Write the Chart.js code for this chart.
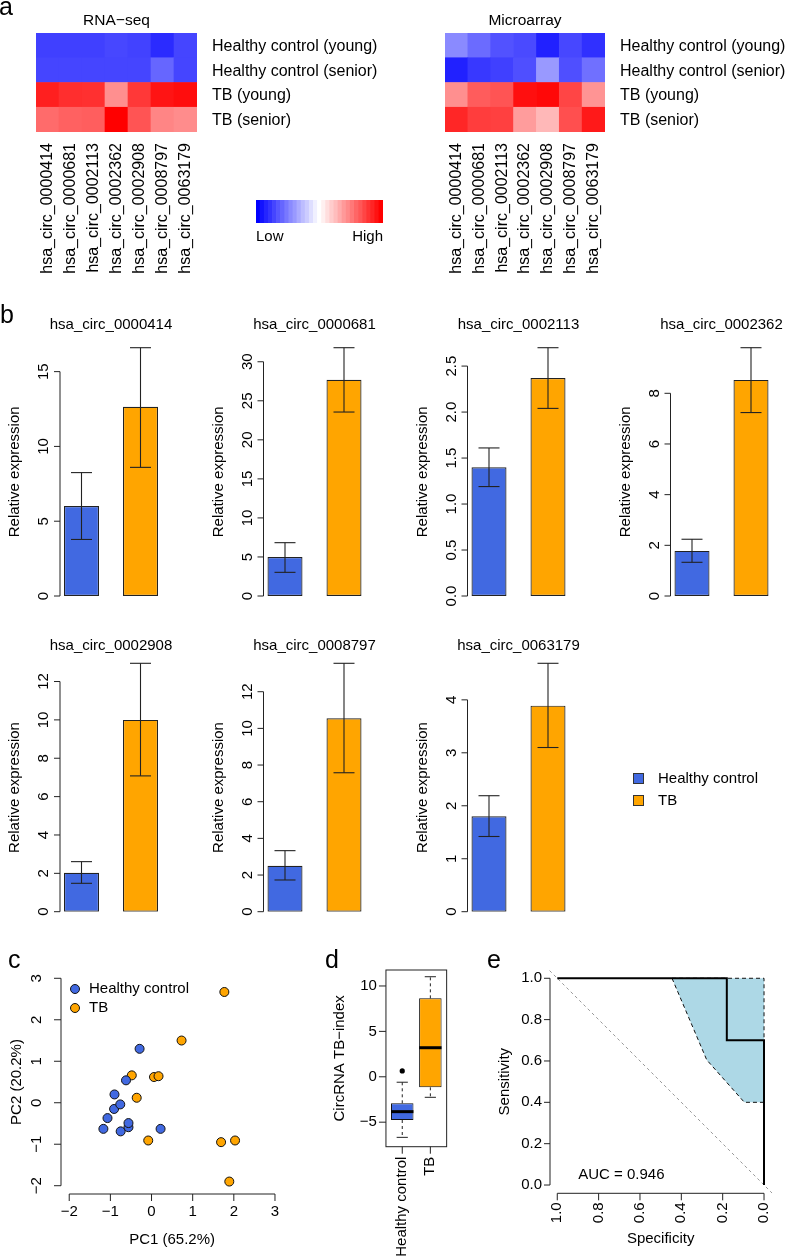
<!DOCTYPE html>
<html><head><meta charset="utf-8">
<script src="https://cdn.jsdelivr.net/npm/chart.js@4/dist/chart.umd.min.js"></script>
<style>
html,body{margin:0;padding:0;background:#fff;}
#wrap{position:relative;width:786px;height:1258px;overflow:hidden;background:#fff;}
canvas{position:absolute;left:0;top:0;}
</style></head><body><div id="wrap"></div>
<script>
// ================= DATA =================
const circIds = ['hsa_circ_0000414','hsa_circ_0000681','hsa_circ_0002113','hsa_circ_0002362','hsa_circ_0002908','hsa_circ_0008797','hsa_circ_0063179'];
const heatRowNames = ['Healthy control (young)','Healthy control (senior)','TB (young)','TB (senior)'];
// heatmap scaled expression (-1 = low/blue, 1 = high/red)
const rnaseqHCyoung  = [-0.75,-0.75,-0.75,-0.72,-0.74,-0.83,-0.73];
const rnaseqHCsenior = [-0.73,-0.73,-0.73,-0.73,-0.73,-0.60,-0.73];
const rnaseqTByoung  = [0.88,0.82,0.81,0.44,0.78,0.92,0.95];
const rnaseqTBsenior = [0.58,0.62,0.63,1.00,0.67,0.48,0.45];
const microHCyoung   = [-0.46,-0.58,-0.68,-0.71,-0.87,-0.72,-0.81];
const microHCsenior  = [-0.87,-0.78,-0.75,-0.69,-0.40,-0.69,-0.56];
const microTByoung   = [0.44,0.64,0.67,0.94,0.97,0.73,0.42];
const microTBsenior  = [0.85,0.76,0.75,0.39,0.28,0.69,0.90];
const keyLevels = [-1,-0.93,-0.86,-0.8,-0.73,-0.66,-0.6,-0.53,-0.46,-0.4,-0.33,-0.26,-0.2,-0.13,-0.06,0,0.06,0.13,0.2,0.26,0.33,0.4,0.46,0.53,0.6,0.66,0.73,0.8,0.86,0.93,1];

const groupNames = ['Healthy control','TB'];
const hcMean = [6.02, 5.00, 1.40, 1.78, 2.03, 2.51, 1.80];
const hcLow  = [3.78, 3.03, 1.19, 1.33, 1.48, 1.73, 1.42];
const hcHigh = [8.25, 6.83, 1.61, 2.24, 2.61, 3.33, 2.19];
const tbMean = [12.65, 27.7, 2.37, 8.53, 10.0, 10.55, 3.89];
const tbLow  = [8.60, 23.56, 2.04, 7.24, 7.08, 7.58, 3.10];
const tbHigh = [16.6, 31.8, 2.70, 9.80, 12.95, 13.55, 4.69];
const barTicks = [[0,5,10,15],[0,5,10,15,20,25,30],[0,0.5,1,1.5,2,2.5],[0,2,4,6,8],[0,2,4,6,8,10,12],[0,2,4,6,8,10,12],[0,1,2,3,4]];
const barTickLabels = [['0','5','10','15'],['0','5','10','15','20','25','30'],['0.0','0.5','1.0','1.5','2.0','2.5'],['0','2','4','6','8'],['0','2','4','6','8','10','12'],['0','2','4','6','8','10','12'],['0','1','2','3','4']];

const pcaHC_pc1 = [-0.29,-0.62,-0.90,-0.91,-0.76,-1.07,-1.17,-0.75,-0.56,-0.56,0.22];
const pcaHC_pc2 = [1.30,0.54,0.20,-0.15,-0.04,-0.37,-0.63,-0.69,-0.59,-0.49,-0.63];
const pcaTB_pc1 = [1.77,0.73,-0.48,0.06,0.17,-0.36,-0.08,1.69,2.03,1.89];
const pcaTB_pc2 = [2.67,1.50,0.66,0.62,0.64,0.12,-0.91,-0.95,-0.91,-1.90];
const pcaTicks = [-2,-1,0,1,2,3];
const pcaTickLabels = ['\u22122','\u22121','0','1','2','3'];

const boxQ1  = [-4.76, -1.16];
const boxMed = [-3.84, 3.20];
const boxQ3  = [-2.92, 8.64];
const boxLo  = [-6.67, -2.26];
const boxHi  = [-0.60, 11.02];
const boxOutHC = [0.64];
const boxTicks = [-5,0,5,10];
const boxTickLabels = ['\u22125','0','5','10'];

const rocSpec = [1, 0.18, 0.18, 0, 0];
const rocSens = [1, 1, 0.70, 0.70, 0];
const ciUpSpec = [0.445, 0, 0];
const ciUpSens = [1, 1, 0.40];
const ciLoSpec = [0.445, 0.277, 0.095, 0];
const ciLoSens = [1, 0.605, 0.40, 0.40];
const rocTicks = [0,0.2,0.4,0.6,0.8,1.0];
const rocTickLabels = ['0.0','0.2','0.4','0.6','0.8','1.0'];
const diagRange = [-0.04, 1.04];
const aucText = 'AUC = 0.946';

// ================= LAYOUT / STYLE =================
const W = 786, H = 1258;
const FONT = '"Liberation Sans", Arial, Helvetica, sans-serif';
const BLUE = '#4169E1', ORANGE = '#FFA500', AX = '#222';
const rnaArea = {L:36, R:197, T:33, B:132};
const microArea = {L:445, R:605, T:33, B:132};
const keyArea = {L:256, R:383, T:200, B:223};
const barCenters = [81.5, 285, 489, 692, 81.5, 285, 489];
const barRows = [0,0,0,0,1,1,1];
const rowTB = [[347.7, 596], [663.3, 911.7]];
const titleY = [325, 646];
const pcaArea = {L:61, R:283.2, T:970, B:1194};
const boxArea = {L:388.2, R:444.4, T:970, B:1146.7};
const rocArea = {L:549, R:772.3, T:970, B:1193.3};
const wrap = document.getElementById('wrap');

// ================= HELPERS =================
function heatColor(v) {
  if (v < 0) { const t = Math.round(255 * (1 + v)); return `rgb(${t},${t},255)`; }
  const t = Math.round(255 * (1 - v)); return `rgb(255,${t},${t})`;
}
function txt(ctx, s, x, y, o = {}) {
  ctx.save();
  ctx.font = `${o.size || 15}px ${FONT}`;
  ctx.fillStyle = o.color || '#000';
  ctx.textAlign = o.align || 'center';
  ctx.textBaseline = o.baseline || 'middle';
  ctx.translate(x, y);
  if (o.rot) ctx.rotate(o.rot);
  ctx.fillText(s, 0, 0);
  ctx.restore();
}
function seg(ctx, x1, y1, x2, y2, o = {}) {
  ctx.save();
  ctx.strokeStyle = o.color || AX;
  ctx.lineWidth = o.width || 1;
  ctx.setLineDash(o.dash || []);
  ctx.beginPath(); ctx.moveTo(x1, y1); ctx.lineTo(x2, y2); ctx.stroke();
  ctx.restore();
}
function yAxis(ctx, scale, ticks, labels, ax, o) {
  const ps = ticks.map(v => scale.getPixelForValue(v));
  seg(ctx, ax, Math.min(...ps), ax, Math.max(...ps));
  ps.forEach((p, i) => {
    seg(ctx, ax - o.tick, p, ax, p);
    if (o.rot) txt(ctx, labels[i], ax - o.lab, p, {rot: -Math.PI / 2});
    else txt(ctx, labels[i], ax - o.lab, p, {align: 'right'});
  });
}
function xAxis(ctx, scale, ticks, labels, ay, o) {
  const ps = ticks.map(v => scale.getPixelForValue(v));
  seg(ctx, Math.min(...ps), ay, Math.max(...ps), ay);
  ps.forEach((p, i) => {
    seg(ctx, p, ay, p, ay + o.tick);
    if (o.rot) txt(ctx, labels[i], p, ay + o.lab, {rot: -Math.PI / 2, align: 'right'});
    else txt(ctx, labels[i], p, ay + o.lab, {});
  });
}
function makeChart(area, cfg, plugin) {
  const cv = document.createElement('canvas');
  cv.width = W; cv.height = H;
  cv.style.width = W + 'px'; cv.style.height = H + 'px';
  wrap.appendChild(cv);
  const o = cfg.options || (cfg.options = {});
  o.responsive = false; o.maintainAspectRatio = false; o.animation = false;
  o.devicePixelRatio = 1; o.events = [];
  o.layout = {autoPadding: false, padding: {left: area.L, top: area.T, right: W - area.R, bottom: H - area.B}};
  o.plugins = Object.assign({legend: {display: false}, tooltip: {enabled: false}, title: {display: false}}, o.plugins || {});
  if (plugin) cfg.plugins = [plugin];
  return new Chart(cv, cfg);
}

// ================= PANEL a : heatmaps =================
function heatmap(area, title, rows, labelX, extra) {
  const datasets = rows.slice().reverse().map(vals => ({
    data: vals.map(() => 1),
    backgroundColor: vals.map(heatColor),
    borderWidth: 0, barPercentage: 1, categoryPercentage: 1
  }));
  makeChart(area, {
    type: 'bar',
    data: {labels: circIds, datasets},
    options: {scales: {x: {display: false, stacked: true}, y: {display: false, stacked: true, min: 0, max: rows.length}}}
  }, {id: 'hm', afterDraw(chart) {
    const ctx = chart.ctx, xs = chart.scales.x, ys = chart.scales.y, ca = chart.chartArea;
    txt(ctx, title, (ca.left + ca.right) / 2, 21, {size: 15.5});
    heatRowNames.forEach((n, i) => {
      txt(ctx, n, labelX, ys.getPixelForValue(rows.length - i - 0.5) + 1, {size: 16, align: 'left'});
    });
    circIds.forEach((n, i) => txt(ctx, n, xs.getPixelForValue(i), 143, {size: 16, align: 'right', rot: -Math.PI / 2}));
    if (extra) extra(ctx);
  }});
}
heatmap(rnaArea, 'RNA\u2212seq', [rnaseqHCyoung, rnaseqHCsenior, rnaseqTByoung, rnaseqTBsenior], 212,
  ctx => txt(ctx, 'a', -1, 15, {size: 25, align: 'left', baseline: 'alphabetic'}));
heatmap(microArea, 'Microarray', [microHCyoung, microHCsenior, microTByoung, microTBsenior], 620);

// colour key
makeChart(keyArea, {
  type: 'bar',
  data: {labels: keyLevels.map(String), datasets: [{data: keyLevels.map(() => 1), backgroundColor: keyLevels.map(heatColor), borderWidth: 0, barPercentage: 1, categoryPercentage: 1}]},
  options: {scales: {x: {display: false}, y: {display: false, min: 0, max: 1}}}
}, {id: 'key', afterDraw(chart) {
  const ctx = chart.ctx, ca = chart.chartArea;
  txt(ctx, 'Low', ca.left, 237, {align: 'left'});
  txt(ctx, 'High', ca.right, 237, {align: 'right'});
}});

// ================= PANEL b : bar charts =================
barCenters.forEach((c, i) => {
  const [T, B] = rowTB[barRows[i]];
  const area = {L: c - 29.5, R: c + 88.5, T, B};
  makeChart(area, {
    type: 'bar',
    data: {labels: groupNames, datasets: [{
      data: [hcMean[i], tbMean[i]], backgroundColor: [BLUE, ORANGE], borderColor: '#222',
      borderWidth: 1.2, borderSkipped: false, barPercentage: 35 / 59, categoryPercentage: 1
    }]},
    options: {scales: {x: {display: false}, y: {display: false, min: 0, max: Math.max(tbHigh[i], hcHigh[i])}}}
  }, {id: 'bars' + i,
    afterDatasetsDraw(chart) {
      const ctx = chart.ctx, ys = chart.scales.y, meta = chart.getDatasetMeta(0);
      const lo = [hcLow[i], tbLow[i]], hi = [hcHigh[i], tbHigh[i]];
      meta.data.forEach((bar, j) => {
        const yl = ys.getPixelForValue(lo[j]), yh = ys.getPixelForValue(hi[j]);
        seg(ctx, bar.x, yl, bar.x, yh, {width: 1.1});
        seg(ctx, bar.x - 10.5, yl, bar.x + 10.5, yl, {width: 1.1});
        seg(ctx, bar.x - 10.5, yh, bar.x + 10.5, yh, {width: 1.1});
      });
    },
    afterDraw(chart) {
      const ctx = chart.ctx, ys = chart.scales.y, ca = chart.chartArea;
      const ax = ca.left + 8;
      yAxis(ctx, ys, barTicks[i], barTickLabels[i], ax, {tick: 6, lab: 16, rot: true});
      txt(ctx, 'Relative expression', ax - 45, (ca.top + ca.bottom) / 2, {rot: -Math.PI / 2});
      txt(ctx, circIds[i], (ca.left + ca.right) / 2, titleY[barRows[i]]);
      if (i === 0) txt(ctx, 'b', 0, 323, {size: 25, align: 'left', baseline: 'alphabetic'});
      if (i === 6) {
        [BLUE, ORANGE].forEach((col, k) => {
          const y = 773 + k * 22;
          ctx.save(); ctx.fillStyle = col; ctx.fillRect(633, y, 11, 11);
          ctx.strokeStyle = '#333'; ctx.lineWidth = 1; ctx.strokeRect(633.5, y + 0.5, 10, 10); ctx.restore();
          txt(ctx, groupNames[k], 658, y + 6, {align: 'left'});
        });
      }
    }
  });
});

// ================= PANEL c : PCA =================
makeChart(pcaArea, {
  type: 'scatter',
  data: {datasets: [
    {data: pcaHC_pc1.map((x, k) => ({x, y: pcaHC_pc2[k]})), pointRadius: 4.5, backgroundColor: BLUE, borderColor: '#111', borderWidth: 1},
    {data: pcaTB_pc1.map((x, k) => ({x, y: pcaTB_pc2[k]})), pointRadius: 4.5, backgroundColor: ORANGE, borderColor: '#111', borderWidth: 1}
  ]},
  options: {scales: {x: {display: false, min: -2.2, max: 3.2}, y: {display: false, min: -2.2, max: 3.2}}}
}, {id: 'pca', afterDraw(chart) {
  const ctx = chart.ctx, xs = chart.scales.x, ys = chart.scales.y, ca = chart.chartArea;
  yAxis(ctx, ys, pcaTicks, pcaTickLabels, ca.left, {tick: 7, lab: 24, rot: true});
  xAxis(ctx, xs, pcaTicks, pcaTickLabels, ca.bottom, {tick: 7, lab: 18});
  txt(ctx, 'PC2 (20.2%)', 17, (ca.top + ca.bottom) / 2, {rot: -Math.PI / 2});
  txt(ctx, 'PC1 (65.2%)', (ca.left + ca.right) / 2, 1240);
  [BLUE, ORANGE].forEach((col, k) => {
    const y = 989 + k * 19;
    ctx.save(); ctx.beginPath(); ctx.arc(75, y, 4.5, 0, Math.PI * 2); ctx.fillStyle = col; ctx.fill();
    ctx.strokeStyle = '#111'; ctx.lineWidth = 1; ctx.stroke(); ctx.restore();
    txt(ctx, groupNames[k], 89, y, {align: 'left'});
  });
  txt(ctx, 'c', 8, 968, {size: 25, align: 'left', baseline: 'alphabetic'});
}});

// ================= PANEL d : boxplot =================
makeChart(boxArea, {
  type: 'bar',
  data: {labels: groupNames, datasets: [
    {type: 'line', data: boxOutHC.map(v => ({x: groupNames[0], y: v})), showLine: false, pointRadius: 2.6, pointBackgroundColor: '#000', pointBorderWidth: 0},
    {data: boxQ1.map((q, k) => [q, boxQ3[k]]), backgroundColor: [BLUE, ORANGE], borderColor: '#111', borderWidth: 1, borderSkipped: false, barPercentage: 0.8, categoryPercentage: 1}
  ]},
  options: {scales: {x: {display: false}, y: {display: false, min: -7.7, max: 11.76}}}
}, {id: 'box',
  beforeDatasetsDraw(chart) {
    const ctx = chart.ctx, xs = chart.scales.x, ys = chart.scales.y;
    groupNames.forEach((g, k) => {
      const x = xs.getPixelForValue(k);
      seg(ctx, x, ys.getPixelForValue(boxQ3[k]), x, ys.getPixelForValue(boxHi[k]), {dash: [3, 3]});
      seg(ctx, x, ys.getPixelForValue(boxQ1[k]), x, ys.getPixelForValue(boxLo[k]), {dash: [3, 3]});
      seg(ctx, x - 5.6, ys.getPixelForValue(boxHi[k]), x + 5.6, ys.getPixelForValue(boxHi[k]));
      seg(ctx, x - 5.6, ys.getPixelForValue(boxLo[k]), x + 5.6, ys.getPixelForValue(boxLo[k]));
    });
  },
  afterDatasetsDraw(chart) {
    const ctx = chart.ctx, xs = chart.scales.x, ys = chart.scales.y;
    groupNames.forEach((g, k) => {
      const x = xs.getPixelForValue(k), y = ys.getPixelForValue(boxMed[k]);
      seg(ctx, x - 11.2, y, x + 11.2, y, {width: 3, color: '#000'});
    });
  },
  afterDraw(chart) {
    const ctx = chart.ctx, xs = chart.scales.x, ys = chart.scales.y, ca = chart.chartArea;
    const fl = xs.getPixelForValue(-0.58), fr = xs.getPixelForValue(1.58);
    ctx.save(); ctx.strokeStyle = AX; ctx.lineWidth = 1; ctx.strokeRect(fl, ca.top, fr - fl, ca.bottom - ca.top); ctx.restore();
    boxTicks.forEach((v, i) => {
      const p = ys.getPixelForValue(v);
      seg(ctx, fl - 7, p, fl, p);
      txt(ctx, boxTickLabels[i], fl - 9, p, {align: 'right'});
    });
    groupNames.forEach((g, k) => {
      const x = xs.getPixelForValue(k);
      seg(ctx, x, ca.bottom, x, ca.bottom + 7);
      txt(ctx, g, x, ca.bottom + 10, {align: 'right', rot: -Math.PI / 2});
    });
    txt(ctx, 'CircRNA TB\u2212index', fl - 46, (ca.top + ca.bottom) / 2, {rot: -Math.PI / 2});
    txt(ctx, 'd', 325, 968, {size: 25, align: 'left', baseline: 'alphabetic'});
  }
});

// ================= PANEL e : ROC =================
makeChart(rocArea, {
  type: 'scatter',
  data: {datasets: [
    {data: rocSpec.map((x, k) => ({x, y: rocSens[k]})), showLine: true, borderColor: '#000', borderWidth: 2, pointRadius: 0},
    {data: ciUpSpec.map((x, k) => ({x, y: ciUpSens[k]})), showLine: true, borderColor: '#111', borderWidth: 1, borderDash: [4, 3], pointRadius: 0},
    {data: ciLoSpec.map((x, k) => ({x, y: ciLoSens[k]})), showLine: true, borderColor: '#111', borderWidth: 1, borderDash: [4, 3], pointRadius: 0},
    {data: diagRange.map(v => ({x: v, y: v})), showLine: true, borderColor: '#999', borderWidth: 1, borderDash: [3, 3], pointRadius: 0}
  ]},
  options: {scales: {x: {display: false, min: -0.04, max: 1.04, reverse: true}, y: {display: false, min: -0.04, max: 1.04}}}
}, {id: 'roc',
  beforeDatasetsDraw(chart) {
    const ctx = chart.ctx;
    const up = chart.getDatasetMeta(1).data, lo = chart.getDatasetMeta(2).data;
    const pts = up.concat(lo.slice().reverse());
    ctx.save(); ctx.beginPath();
    pts.forEach((p, k) => k ? ctx.lineTo(p.x, p.y) : ctx.moveTo(p.x, p.y));
    ctx.closePath(); ctx.fillStyle = '#ADD8E6'; ctx.fill(); ctx.restore();
  },
  afterDraw(chart) {
    const ctx = chart.ctx, xs = chart.scales.x, ys = chart.scales.y, ca = chart.chartArea;
    yAxis(ctx, ys, rocTicks, rocTickLabels, ca.left + 1, {tick: 6, lab: 8, rot: false});
    xAxis(ctx, xs, rocTicks, rocTickLabels, ca.bottom, {tick: 7, lab: 9, rot: true});
    txt(ctx, 'Sensitivity', ca.left - 44, ys.getPixelForValue(0.5), {rot: -Math.PI / 2});
    txt(ctx, 'Specificity', xs.getPixelForValue(0.5), 1239);
    txt(ctx, aucText, xs.getPixelForValue(0.69), ys.getPixelForValue(0.05));
    txt(ctx, 'e', 487, 968, {size: 25, align: 'left', baseline: 'alphabetic'});
  }
});
</script></body></html>
